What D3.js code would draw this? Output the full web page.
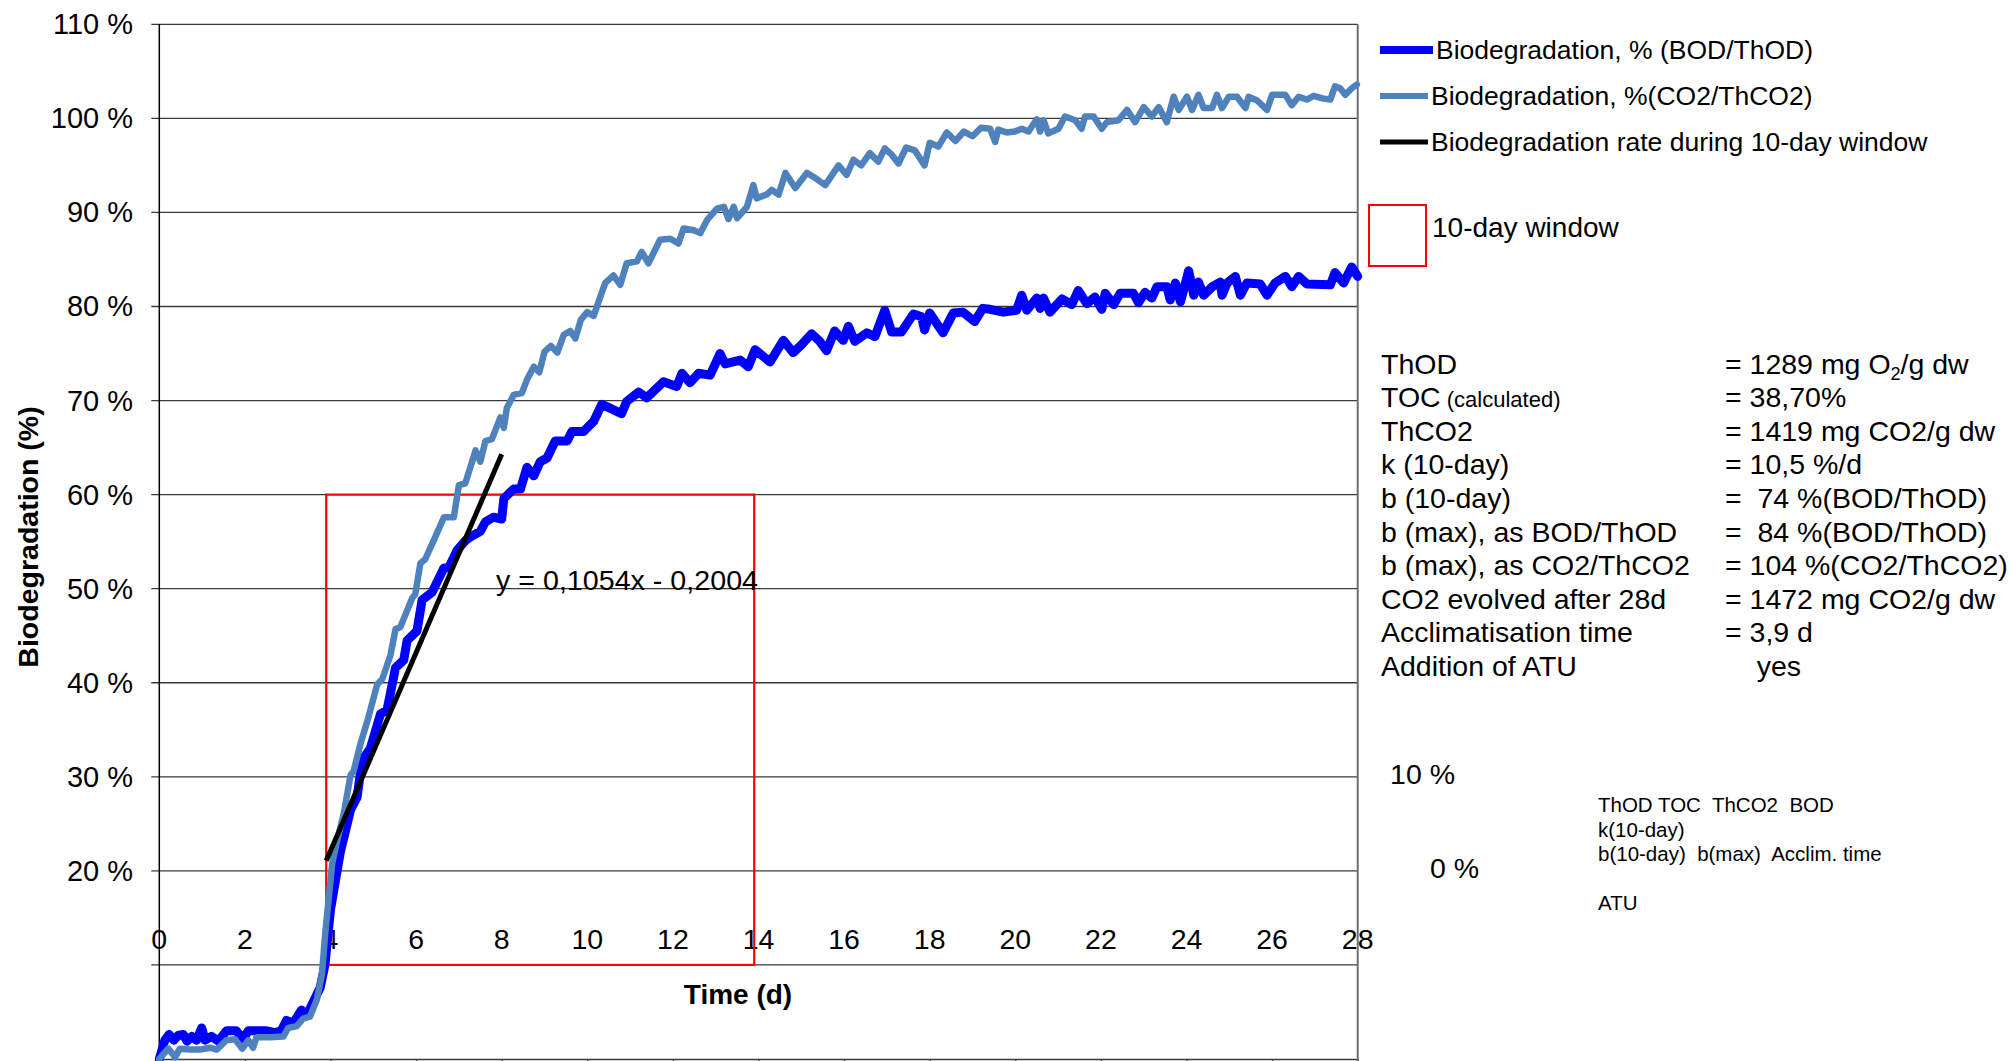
<!DOCTYPE html>
<html>
<head>
<meta charset="utf-8">
<script src="https://cdn.jsdelivr.net/npm/d3@7"></script>
<style>
  html, body { margin: 0; padding: 0; background: #ffffff; }
  svg { display: block; font-family: "Liberation Sans", Arial, sans-serif; }
  text { white-space: pre; }
</style>
</head>
<body>
<svg id="chart" width="2011" height="1061"></svg>
<script>
// ---------------- DATA ----------------
const bodDays = [0.00,0.13,0.23,0.34,0.44,0.56,0.65,0.76,0.87,0.99,1.07,1.22,1.38,1.57,1.80,1.96,2.08,2.27,2.51,2.70,2.85,2.97,3.13,3.32,3.44,3.60,3.76,3.87,4.00,4.23,4.47,4.62,4.74,4.93,5.17,5.32,5.52,5.71,5.79,6.02,6.14,6.37,6.65,6.76,6.96,7.15,7.27,7.50,7.62,7.81,8.00,8.05,8.28,8.44,8.59,8.75,8.90,9.06,9.25,9.53,9.64,9.91,10.15,10.34,10.53,10.80,10.92,11.20,11.39,11.78,12.09,12.21,12.40,12.60,12.87,13.10,13.22,13.57,13.76,13.92,14.27,14.58,14.81,15.00,15.24,15.43,15.59,15.78,15.98,16.10,16.25,16.53,16.72,16.95,17.11,17.34,17.62,17.81,17.88,18.00,18.31,18.55,18.78,19.05,19.24,19.41,19.72,20.03,20.15,20.27,20.50,20.58,20.66,20.81,21.09,21.32,21.47,21.67,21.86,22.02,22.10,22.30,22.45,22.76,22.88,23.03,23.19,23.31,23.54,23.62,23.74,23.86,24.05,24.17,24.28,24.40,24.60,24.79,24.83,24.95,25.14,25.26,25.41,25.72,25.88,26.07,26.31,26.46,26.62,26.81,27.36,27.47,27.67,27.86,28.00];
const bodPct  = [0.0,2.0,2.6,2.0,2.5,2.6,1.9,2.4,2.0,3.3,2.0,2.4,1.9,3.0,3.0,2.1,3.0,3.0,3.0,2.8,3.0,4.1,3.8,5.2,4.6,6.1,7.6,10.0,15.9,22.0,26.5,27.8,31.8,33.0,36.7,37.1,41.6,42.4,44.5,45.5,48.8,49.6,52.2,52.2,54.1,55.1,55.5,56.1,57.1,57.6,57.4,59.6,60.6,60.6,62.9,62.0,63.5,63.9,65.7,65.7,66.7,66.7,67.8,69.6,69.2,68.6,69.9,70.9,70.3,72.0,71.5,72.9,71.9,72.9,72.7,75.0,73.9,74.3,73.6,75.4,74.1,76.4,75.1,75.9,77.1,76.3,75.3,77.4,76.4,77.9,76.3,77.2,76.8,79.6,77.3,77.3,79.2,78.9,77.5,79.3,77.2,79.3,79.4,78.4,79.8,79.7,79.4,79.6,81.2,79.6,80.9,79.8,80.9,79.4,80.8,80.2,81.7,80.3,81.0,79.7,81.4,80.2,81.4,81.4,80.4,81.5,80.9,82.1,82.1,80.7,82.5,80.5,83.8,81.2,82.6,81.2,82.1,82.6,81.2,82.5,83.2,81.2,82.5,82.4,81.2,82.5,83.2,82.1,83.2,82.4,82.3,83.6,82.5,84.2,83.2];

const co2Days = [0.00,0.21,0.37,0.48,0.72,0.95,1.18,1.34,1.57,1.77,1.94,2.08,2.19,2.27,2.58,2.90,3.01,3.21,3.36,3.52,3.68,3.80,3.88,4.04,4.16,4.31,4.47,4.54,4.70,4.86,5.09,5.21,5.40,5.52,5.63,5.91,5.98,6.10,6.21,6.41,6.65,6.88,7.00,7.15,7.39,7.50,7.62,7.77,7.97,8.05,8.12,8.28,8.47,8.59,8.75,8.88,9.00,9.15,9.30,9.45,9.60,9.72,9.85,10.00,10.15,10.30,10.42,10.61,10.77,10.92,11.16,11.27,11.43,11.70,11.94,12.13,12.25,12.49,12.64,12.80,13.03,13.19,13.30,13.42,13.50,13.73,13.88,13.96,14.19,14.31,14.47,14.63,14.86,15.13,15.28,15.56,15.87,16.06,16.22,16.40,16.60,16.80,16.95,17.10,17.27,17.45,17.65,17.88,18.00,18.20,18.40,18.60,18.80,19.00,19.20,19.41,19.53,19.60,19.80,19.99,20.15,20.31,20.50,20.58,20.66,20.77,21.01,21.16,21.40,21.55,21.63,21.83,22.02,22.14,22.41,22.61,22.80,23.00,23.19,23.35,23.54,23.70,23.82,24.01,24.13,24.28,24.40,24.60,24.71,24.83,24.99,25.18,25.38,25.45,25.65,25.88,26.00,26.31,26.46,26.62,26.81,26.97,27.20,27.36,27.47,27.59,27.71,27.86,27.98];
const co2Pct  = [0.0,1.1,0.2,1.1,1.0,1.0,1.2,1.0,2.0,2.1,1.1,2.0,1.2,2.3,2.3,2.4,3.3,3.5,4.3,4.5,6.3,9.0,13.5,20.8,23.3,26.1,30.2,30.6,33.5,35.9,39.8,40.4,42.9,45.7,45.9,49.0,49.4,52.7,53.1,55.1,57.6,57.6,61.0,61.2,64.7,63.5,65.7,65.9,68.2,67.1,69.2,70.6,70.8,72.2,73.6,73.0,75.2,75.8,75.1,77.0,77.4,76.6,78.6,79.4,79.0,81.0,82.5,83.3,82.3,84.6,84.8,85.8,84.6,87.1,87.2,86.7,88.3,88.1,87.8,89.2,90.4,90.6,89.3,90.6,89.4,90.6,92.9,91.5,91.9,92.4,91.9,94.2,92.6,94.2,93.8,92.9,95.0,94.0,95.6,95.0,96.3,95.4,96.8,96.2,95.2,96.9,96.6,95.0,97.4,97.0,98.5,97.6,98.6,98.1,99.0,98.9,97.5,98.8,98.5,98.6,98.9,98.6,99.9,98.6,99.8,98.4,98.9,100.2,99.8,98.9,100.2,100.2,98.9,99.6,99.8,100.9,99.6,101.2,100.2,101.2,99.6,102.3,100.9,102.3,100.9,102.5,101.1,101.1,102.5,101.1,102.3,102.3,101.1,102.3,101.9,100.9,102.5,102.5,101.4,102.3,102.0,102.4,102.1,102.0,103.4,103.2,102.5,103.2,103.6];

// regression over the 10-day window: y = 0,1054x - 0,2004 (fraction)
const trendSlope = 0.1054;
const trendIntercept = -0.2004;
const trendRange = [3.9, 8.0];
const trendLabel = "y = 0,1054x - 0,2004";

// 10-day window box
const windowDays = [3.9, 13.9];
const windowPct = [10, 60];

const xTicks = [0,2,4,6,8,10,12,14,16,18,20,22,24,26,28];
const yGrid = [10,20,30,40,50,60,70,80,90,100,110];
const yTickLabels = ["20 %","30 %","40 %","50 %","60 %","70 %","80 %","90 %","100 %","110 %"];
const yTickValues = [20,30,40,50,60,70,80,90,100,110];
const strayYLabels = ["10 %","0 %"];

const legendLabels = ["Biodegradation, % (BOD/ThOD)", "Biodegradation, %(CO2/ThCO2)", "Biodegradation rate during 10-day window"];
const legendColors = ["#0000FF", "#4F81BD", "#000000"];
const legendWidths = [8, 6, 5];
const windowLegendLabel = "10-day window";

const statLabels = ["ThOD","TOC","ThCO2","k (10-day)","b (10-day)","b (max), as BOD/ThOD","b (max), as CO2/ThCO2","CO2 evolved after 28d","Acclimatisation time","Addition of ATU"];
const statNotes  = ["","(calculated)","","","","","","","",""];
const statValues = ["= 1289 mg O_2/g dw","= 38,70%","= 1419 mg CO2/g dw","= 10,5 %/d","=  74 %(BOD/ThOD)","=  84 %(BOD/ThOD)","= 104 %(CO2/ThCO2)","= 1472 mg CO2/g dw","= 3,9 d","    yes"];

const noteLines = ["ThOD TOC  ThCO2  BOD","k(10-day)","b(10-day)  b(max)  Acclim. time","","ATU"];

const xTitle = "Time (d)";
const yTitle = "Biodegradation (%)";

// ---------------- DRAW ----------------
const svg = d3.select("#chart");
const x = d3.scaleLinear().domain([0, 28]).range([159.3, 1357.7]);
const y = d3.scaleLinear().domain([0, 110]).range([1059, 24.3]);

// gridlines with outer ticks
svg.append("g").selectAll("line").data(yGrid).join("line")
  .attr("x1", x(0) - 8).attr("x2", x(28))
  .attr("y1", d => y(d)).attr("y2", d => y(d))
  .attr("stroke", "#3a3a3a").attr("stroke-width", 1.3);

// x axis at 0 %
const xAxis = d3.axisBottom(x).tickValues(xTicks).tickSize(6).tickFormat("");
svg.append("g").attr("transform", `translate(0,${y(0)})`).call(xAxis)
  .call(g => g.select(".domain").attr("stroke", "#3a3a3a").attr("stroke-width", 1.5))
  .call(g => g.selectAll(".tick line").attr("stroke", "#3a3a3a").attr("stroke-width", 1.3));

// left axis line
svg.append("line").attr("x1", x(0)).attr("x2", x(0)).attr("y1", y(110)).attr("y2", 1061)
  .attr("stroke", "#000").attr("stroke-width", 1.5);
// right border
svg.append("line").attr("x1", x(28)).attr("x2", x(28)).attr("y1", y(110)).attr("y2", 1061)
  .attr("stroke", "#6f6f6f").attr("stroke-width", 2);

// y tick labels
svg.append("g").selectAll("text").data(yTickValues).join("text")
  .attr("x", 133).attr("y", d => y(d) + 10)
  .attr("text-anchor", "end").attr("font-size", 29).attr("fill", "#000")
  .text((d, i) => yTickLabels[i]);

// stray 10 % / 0 % labels
svg.append("text").attr("x", 1455).attr("y", 784).attr("text-anchor", "end")
  .attr("font-size", 28.5).text(strayYLabels[0]);
svg.append("text").attr("x", 1479).attr("y", 878).attr("text-anchor", "end")
  .attr("font-size", 28.5).text(strayYLabels[1]);

// x tick labels
svg.append("g").selectAll("text").data(xTicks).join("text")
  .attr("x", d => x(d)).attr("y", 949)
  .attr("text-anchor", "middle").attr("font-size", 28.5).attr("fill", "#000")
  .text(d => d);

// window box
svg.append("rect")
  .attr("x", x(windowDays[0])).attr("y", y(windowPct[1]))
  .attr("width", x(windowDays[1]) - x(windowDays[0]))
  .attr("height", y(windowPct[0]) - y(windowPct[1]))
  .attr("fill", "none").attr("stroke", "#FF0000").attr("stroke-width", 2.2);

// series
const line = d3.line().x(d => x(d[0])).y(d => y(d[1])).curve(d3.curveLinear);
const bod = bodDays.map((d, i) => [d, bodPct[i]]);
const co2 = co2Days.map((d, i) => [d, co2Pct[i]]);

svg.append("path").datum(bod).attr("d", line)
  .attr("fill", "none").attr("stroke", legendColors[0]).attr("stroke-width", 9)
  .attr("stroke-linejoin", "round").attr("stroke-linecap", "round");
svg.append("path").datum(co2).attr("d", line)
  .attr("fill", "none").attr("stroke", legendColors[1]).attr("stroke-width", 6.5)
  .attr("stroke-linejoin", "round").attr("stroke-linecap", "round");

// trend line
const trend = trendRange.map(d => [d, (trendSlope * d + trendIntercept) * 100]);
svg.append("path").datum(trend).attr("d", line)
  .attr("fill", "none").attr("stroke", "#000").attr("stroke-width", 5);

svg.append("text").attr("x", 496).attr("y", 590).attr("font-size", 28.5)
  .attr("textLength", 262).attr("lengthAdjust", "spacingAndGlyphs")
  .text(trendLabel);

// axis titles
svg.append("text").attr("x", 738).attr("y", 1004).attr("text-anchor", "middle")
  .attr("font-size", 28).attr("font-weight", "bold").text(xTitle);
svg.append("text").attr("transform", "translate(38,537) rotate(-90)")
  .attr("text-anchor", "middle").attr("font-size", 28.5).attr("font-weight", "bold").text(yTitle);

// legend
const legendY = [50, 96, 142];
const legendTextX = [1436, 1431, 1431];
legendLabels.forEach((lab, i) => {
  svg.append("line").attr("x1", 1380).attr("x2", legendTextX[i] - 3)
    .attr("y1", legendY[i]).attr("y2", legendY[i])
    .attr("stroke", legendColors[i]).attr("stroke-width", legendWidths[i]);
  svg.append("text").attr("x", legendTextX[i]).attr("y", legendY[i] + 9)
    .attr("font-size", 26.5).text(lab);
});
svg.append("rect").attr("x", 1369).attr("y", 205).attr("width", 57).attr("height", 61)
  .attr("fill", "none").attr("stroke", "#FF0000").attr("stroke-width", 2);
svg.append("text").attr("x", 1432).attr("y", 237).attr("font-size", 28).text(windowLegendLabel);

// statistics block
statLabels.forEach((lab, i) => {
  const by = 373.5 + i * 33.6;
  const t = svg.append("text").attr("x", 1381).attr("y", by).attr("font-size", 28.5);
  t.append("tspan").text(lab);
  if (statNotes[i]) t.append("tspan").attr("font-size", 22).text(" " + statNotes[i]);
  const v = svg.append("text").attr("x", 1725).attr("y", by).attr("font-size", 28.5);
  const parts = statValues[i].split(/_(\d)/);
  parts.forEach((p, k) => {
    if (k % 2 === 1) v.append("tspan").attr("font-size", 18).attr("dy", 6).text(p);
    else if (k > 0) v.append("tspan").attr("dy", -6).text(p);
    else v.append("tspan").text(p);
  });
});

// small note lines
const noteY = [812, 837, 861, 885, 910];
noteLines.forEach((s, i) => {
  if (!s) return;
  svg.append("text").attr("x", 1598).attr("y", noteY[i]).attr("font-size", 20.5).text(s);
});
</script>
</body>
</html>
